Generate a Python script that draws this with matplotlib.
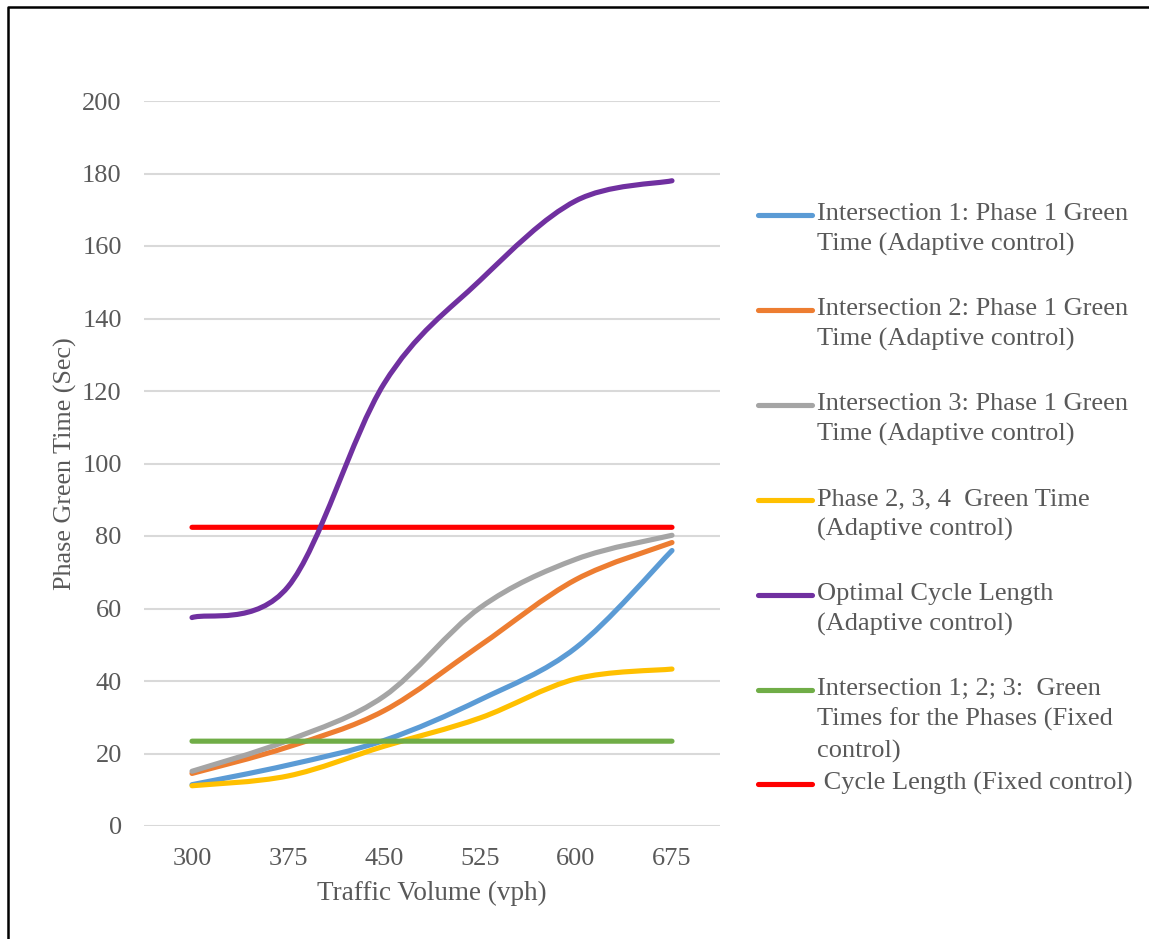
import numpy as np
import matplotlib
matplotlib.use("Agg")
import matplotlib.pyplot as plt
from matplotlib.path import Path
from matplotlib.patches import PathPatch
from matplotlib.lines import Line2D

plt.rcParams['font.family'] = ['Liberation Serif', 'DejaVu Serif']

volumes = ['300', '375', '450', '525', '600', '675']
int1_phase1 = [11.4, 16.8, 23.6, 34.8, 49.2, 76.0]
int2_phase1 = [14.5, 21.8, 31.8, 49.8, 68.0, 78.2]
int3_phase1 = [15.1, 23.6, 35.8, 60.2, 73.6, 80.2]
phase234 = [11.1, 13.8, 22.0, 29.8, 40.6, 43.3]
optimal_cycle = [57.5, 66.0, 122.0, 150.5, 172.5, 178.0]
fixed_green = [23.4] * 6
fixed_cycle = [82.4] * 6

labels = [
    'Intersection 1: Phase 1 Green\nTime (Adaptive control)',
    'Intersection 2: Phase 1 Green\nTime (Adaptive control)',
    'Intersection 3: Phase 1 Green\nTime (Adaptive control)',
    'Phase 2, 3, 4  Green Time\n(Adaptive control)',
    'Optimal Cycle Length\n(Adaptive control)',
    'Intersection 1; 2; 3:  Green\nTimes for the Phases (Fixed\ncontrol)',
    ' Cycle Length (Fixed control)',
]
colors = ['#5B9BD5', '#ED7D31', '#A5A5A5', '#FFC000', '#7030A0', '#70AD47', '#FF0000']
series = [int1_phase1, int2_phase1, int3_phase1, phase234, optimal_cycle, fixed_green, fixed_cycle]
zorders = [4, 4, 4, 4, 5, 6, 3]

W, H = 1149, 939
fig = plt.figure(figsize=(W / 100, H / 100), dpi=100)
ax = fig.add_axes([144 / W, 1 - 826 / H, 576 / W, 725 / H])


def smooth_path(ys):
    # Excel-style smoothed line: cubic Bezier through the points
    x = np.arange(len(ys), dtype=float)
    y = np.asarray(ys, dtype=float)
    pts = np.column_stack([x, y])
    verts = [pts[0]]
    codes = [Path.MOVETO]
    n = len(pts)
    for i in range(n - 1):
        p0 = pts[i - 1] if i > 0 else pts[i]
        p1 = pts[i]
        p2 = pts[i + 1]
        p3 = pts[i + 2] if i + 2 < n else pts[i + 1]
        c1 = p1 + (p2 - p0) / 6
        c2 = p2 - (p3 - p1) / 6
        verts += [c1, c2, p2]
        codes += [Path.CURVE4] * 3
    return Path(verts, codes)


for ys, c, z in zip(series, colors, zorders):
    patch = PathPatch(smooth_path(ys), fill=False, edgecolor=c, lw=3.7,
                      capstyle='round', joinstyle='round', zorder=z)
    ax.add_patch(patch)

ax.set_xlim(-0.5, len(volumes) - 0.5)
ax.set_ylim(0, 200)
ax.set_xticks(range(len(volumes)))
ax.set_xticklabels(volumes)
ax.set_yticks(range(0, 201, 20))
for s in ax.spines.values():
    s.set_visible(False)
ax.grid(axis='y', color='#D9D9D9', lw=1.5, zorder=0)
ax.set_axisbelow(True)
ax.tick_params(length=0, labelsize=19, colors='#595959')
ax.tick_params(axis='y', pad=16)
ax.tick_params(axis='x', pad=16)
ax.set_xlabel('Traffic Volume (vph)', fontsize=19.5, color='#595959', labelpad=8)
ax.set_ylabel('Phase Green Time (Sec)', fontsize=18.8, color='#595959', labelpad=4)

# legend drawn by hand so the key sits on the first text line
leg_y = [215, 310, 405, 500, 595, 690, 784]
for lab, c, yy in zip(labels, colors, leg_y):
    fig.add_artist(Line2D([758 / W, 812 / W], [1 - yy / H, 1 - yy / H], color=c, lw=3.7,
                          solid_capstyle='round', transform=fig.transFigure))
    fig.text(817 / W, 1 - (yy - 12) / H, lab, fontsize=19, color='#595959',
             va='top', ha='left', linespacing=1.45)

# outer frame
fig.add_artist(Line2D([8 / W, 8 / W, 1.0], [0.0, 1 - 7 / H, 1 - 7 / H], color='black', lw=1.8,
                      transform=fig.transFigure))

fig.savefig('out.png', dpi=100)
